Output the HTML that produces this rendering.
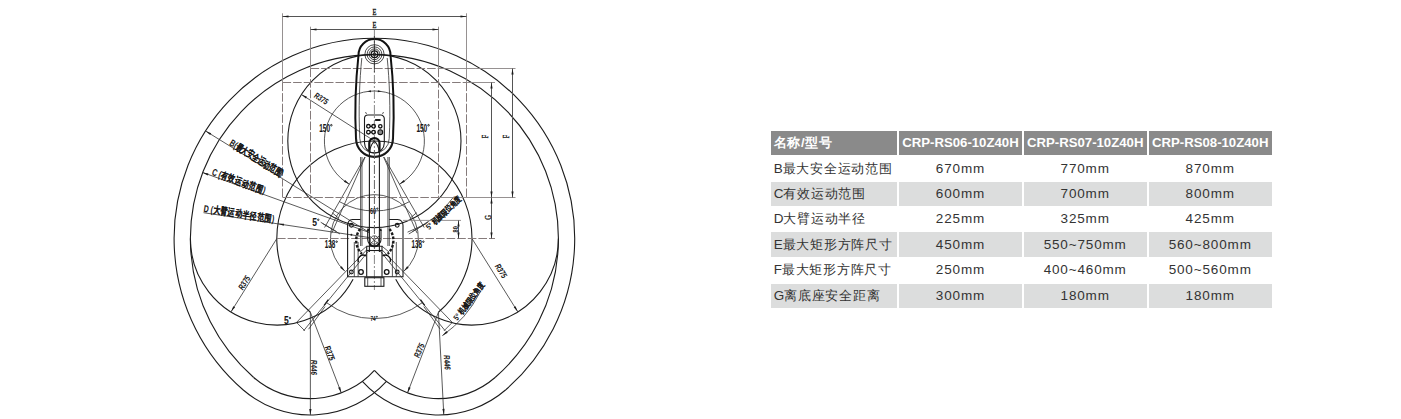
<!DOCTYPE html>
<html><head><meta charset="utf-8"><style>
html,body{margin:0;padding:0;background:#fff;}
body{width:1401px;height:419px;position:relative;overflow:hidden;font-family:"Liberation Sans",sans-serif;}
svg{position:absolute;left:0;top:0;}
.s{fill:none;stroke:#1c1c1c;stroke-width:1.1;}
.m{}
.t1{stroke-width:0.8;stroke:#303030;}
.w{fill:#fff;}
.k{fill:none;stroke:#111;stroke-width:2.0;}
.kd{fill:none;stroke:#1a1a1a;stroke-width:2.4;stroke-dasharray:2.6 1.6;}
.k2{fill:none;stroke:#111;stroke-width:1.3;}
.f{fill:#1c1c1c;stroke:none;}
.g{stroke:#8a8484;stroke-width:0.9;}
.d{stroke:#555;stroke-width:1.0;}
.ds{stroke:#857b7b;stroke-width:1.0;stroke-dasharray:8.6 2;}
.dc{stroke:#6a6a6a;stroke-width:0.8;stroke-dasharray:9 2 2 2;}
.t{font-family:"Liberation Serif",serif;fill:#161616;}
.tb{font-family:"Liberation Sans",sans-serif;font-weight:bold;fill:#161616;stroke:#161616;stroke-width:0.05;}
.tsb{font-family:"Liberation Serif",serif;fill:#161616;stroke:#161616;stroke-width:0.35;}
.c{position:absolute;box-sizing:border-box;white-space:nowrap;text-align:center;}
.c span{position:absolute;left:0;right:0;}
.c.l span{left:3px;right:auto;text-align:left;}
.h{background:#8a8a8a;color:#fff;font-weight:bold;font-size:13.2px;}
.h span{top:4px;line-height:16px;}
.r{color:#333;font-size:13.5px;}
.r span{top:5.5px;line-height:16px;}
.gy{background:#dcdddd;}
.gy span{top:4.5px;}
.c i{font-style:normal;}
.r i{font-size:13px;}
.r span{letter-spacing:0.85px;}
.r i{letter-spacing:0.75px;}
.h i{letter-spacing:0.6px;}
.r.l span{letter-spacing:0;}
</style></head><body>
<svg width="1401" height="419" viewBox="0 0 1401 419">
<path class="s" d="M242.99,389.77A200.3,200.3 0 1 1 505.81,389.77"/>
<path class="s" d="M253.69,377.47A184.0,184.0 0 1 1 495.11,377.47"/>
<path class="s m" d="M310.37,312.26A97.6,97.6 0 1 1 438.43,312.26"/>
<path class="s" d="M242.99,389.77A102.7,102.7 0 0 0 386.43,381.26"/>
<path class="s" d="M505.81,389.77A102.7,102.7 0 0 1 362.37,381.26"/>
<path class="s" d="M253.69,377.47A86.4,86.4 0 0 0 374.4,370.27"/>
<path class="s" d="M495.11,377.47A86.4,86.4 0 0 1 374.4,370.27"/>
<circle class="s m" cx="374.4" cy="141.0" r="86.6"/>
<path class="s m" d="M190.4,238.6A86.4,86.4 0 0 0 353.09,279.16"/>
<path class="s m" d="M558.4,238.6A86.4,86.4 0 0 1 395.71,279.16"/>
<path class="s t1" d="M349.4,184.3A50,50 0 1 1 399.4,184.3"/>
<path class="f" d="M367.44,91.49L370.84,90.19L371.02,92.18Z"/>
<path class="f" d="M381.36,91.49L377.78,92.18L377.96,90.19Z"/>
<path class="s t1" d="M344.96,271.3A44,44 0 1 1 403.84,271.3"/>
<path class="s t1" d="M409.4,201.62A70,70 0 0 1 339.4,201.62"/>
<path class="s t1" d="M422.55,302.49A80,80 0 0 1 326.25,302.49"/>
<line class="k2" x1="420.44" y1="299.7" x2="424.65" y2="305.29"/>
<line class="k2" x1="328.36" y1="299.7" x2="324.15" y2="305.29"/>
<path class="s t1" d="M453.86,196.64A97,97 0 0 1 407.58,232.15"/>
<path class="s t1" d="M479.98,292.4A118.5,118.5 0 0 1 442.37,335.67"/>
<path class="f" d="M442.37,335.67L446.38,331.07L447.75,332.8Z"/>
<path class="f" d="M349.4,184.3L343.85,181.76L345.12,179.96Z"/>
<path class="f" d="M399.4,184.3L403.68,179.96L404.95,181.76Z"/>
<path class="f" d="M344.96,271.3L340.06,267.66L341.67,266.16Z"/>
<path class="f" d="M403.84,271.3L407.13,266.16L408.74,267.66Z"/>
<line class="s t1" x1="383.9" y1="157" x2="424.2" y2="227.5"/>
<line class="s t1" x1="383.6" y1="157" x2="417.1" y2="233.2"/>
<line class="s t1" x1="426.3" y1="223.5" x2="412.3" y2="231.5"/>
<line class="s t1" x1="416.6" y1="212.7" x2="409.9" y2="218.4"/>
<line class="s t1" x1="428.1" y1="222.2" x2="408.8" y2="234"/>
<line class="s t1" x1="364.9" y1="157" x2="324.6" y2="227.5"/>
<line class="s t1" x1="365.2" y1="157" x2="331.7" y2="233.2"/>
<line class="s t1" x1="322.5" y1="223.5" x2="336.5" y2="231.5"/>
<line class="s t1" x1="332.2" y1="212.7" x2="338.9" y2="218.4"/>
<line class="s t1" x1="320.7" y1="222.2" x2="340.0" y2="234"/>
<line class="s t1" x1="382.2" y1="250" x2="452.3" y2="322.4"/>
<line class="s t1" x1="379.4" y1="250" x2="445.2" y2="330.8"/>
<line class="s t1" x1="452.3" y1="322.4" x2="444.0" y2="330.8"/>
<line class="s t1" x1="325.03" y1="306.56" x2="308.57" y2="329.21"/>
<line class="s t1" x1="366.6" y1="250" x2="296.5" y2="322.4"/>
<line class="s t1" x1="369.4" y1="250" x2="303.6" y2="330.8"/>
<line class="s t1" x1="296.5" y1="322.4" x2="304.8" y2="330.8"/>
<line class="s t1" x1="423.77" y1="306.56" x2="440.23" y2="329.21"/>
<line class="s t1" x1="205.6" y1="131.0" x2="369" y2="232.3"/>
<path class="f" d="M205.6,131.0L211.28,133.23L210.12,135.1Z"/>
<line class="s t1" x1="202.4" y1="172.4" x2="369" y2="232.4"/>
<path class="f" d="M202.4,172.4L208.42,173.4L207.67,175.47Z"/>
<line class="s t1" x1="203.5" y1="212.7" x2="369" y2="237.5"/>
<path class="f" d="M277.92,223.84L284.02,223.66L283.69,225.83Z"/>
<line class="s t1" x1="374.4" y1="141.0" x2="301.36" y2="94.47"/>
<path class="f" d="M301.36,94.47L307.01,96.77L305.83,98.62Z"/>
<line class="s t1" x1="276.8" y1="238.6" x2="231.01" y2="311.87"/>
<path class="f" d="M231.01,311.87L233.26,306.2L235.13,307.37Z"/>
<line class="s t1" x1="472.0" y1="238.6" x2="517.79" y2="311.87"/>
<path class="f" d="M517.79,311.87L513.67,307.37L515.54,306.2Z"/>
<line class="s t1" x1="310.37" y1="312.26" x2="310.37" y2="414.96"/>
<path class="f" d="M310.37,414.96L309.27,408.96L311.47,408.96Z"/>
<line class="s t1" x1="438.43" y1="312.26" x2="443.81" y2="414.82"/>
<path class="f" d="M443.81,414.82L442.39,408.88L444.59,408.77Z"/>
<line class="s t1" x1="310.37" y1="312.26" x2="341.33" y2="392.92"/>
<path class="f" d="M341.33,392.92L338.15,387.71L340.21,386.93Z"/>
<line class="s t1" x1="438.43" y1="312.26" x2="407.47" y2="392.92"/>
<path class="f" d="M407.47,392.92L408.59,386.93L410.65,387.71Z"/>
<line class="g" x1="282.5" y1="13.3" x2="282.5" y2="82.5"/>
<line class="g" x1="466.5" y1="13.3" x2="466.5" y2="82.5"/>
<line class="g" x1="310.5" y1="26.7" x2="310.5" y2="68.5"/>
<line class="g" x1="438.5" y1="26.7" x2="438.5" y2="68.5"/>
<line class="d" x1="282.5" y1="16.5" x2="466.5" y2="16.5"/>
<path class="f" d="M282.5,16.5L288.5,15.4L288.5,17.6Z"/>
<path class="f" d="M466.5,16.5L460.5,17.6L460.5,15.4Z"/>
<line class="d" x1="310.5" y1="29.5" x2="438.5" y2="29.5"/>
<path class="f" d="M310.5,29.5L316.5,28.4L316.5,30.6Z"/>
<path class="f" d="M438.5,29.5L432.5,30.6L432.5,28.4Z"/>
<line class="ds" x1="282.5" y1="82.5" x2="282.5" y2="197.5"/>
<line class="ds" x1="466.5" y1="82.5" x2="466.5" y2="197.5"/>
<line class="ds" x1="310.5" y1="68.5" x2="310.5" y2="197.5"/>
<line class="ds" x1="438.5" y1="68.5" x2="438.5" y2="197.5"/>
<line class="ds" x1="310.5" y1="68.5" x2="438.5" y2="68.5"/>
<line class="ds" x1="282.5" y1="82.5" x2="466.5" y2="82.5"/>
<line class="ds" x1="282.5" y1="197.5" x2="438.5" y2="197.5"/>
<line class="ds" x1="277" y1="238.5" x2="495" y2="238.5"/>
<line class="g" x1="438.5" y1="68.5" x2="515.5" y2="68.5"/>
<line class="g" x1="466.5" y1="82.5" x2="495" y2="82.5"/>
<line class="g" x1="438.5" y1="197.5" x2="515.5" y2="197.5"/>
<line class="d" x1="512.5" y1="68.5" x2="512.5" y2="197.5"/>
<path class="f" d="M512.5,68.5L513.6,74.5L511.4,74.5Z"/>
<path class="f" d="M512.5,197.5L511.4,191.5L513.6,191.5Z"/>
<line class="d" x1="491.5" y1="82.5" x2="491.5" y2="197.5"/>
<path class="f" d="M491.5,82.5L492.6,88.5L490.4,88.5Z"/>
<path class="f" d="M491.5,197.5L490.4,191.5L492.6,191.5Z"/>
<line class="d" x1="491.5" y1="197.5" x2="491.5" y2="238.5"/>
<path class="f" d="M491.5,197.5L492.6,203.5L490.4,203.5Z"/>
<path class="f" d="M491.5,238.5L490.4,232.5L492.6,232.5Z"/>
<line class="g" x1="403" y1="220.4" x2="461" y2="220.4"/>
<line class="d" x1="458.5" y1="220.4" x2="458.5" y2="238.6"/>
<path class="f" d="M458.5,220.4L459.6,226.4L457.4,226.4Z"/>
<path class="f" d="M458.5,238.6L457.4,232.6L459.6,232.6Z"/>
<line class="dc" x1="374.4" y1="30" x2="374.4" y2="290"/>
<path class="k" d="M358.5,55 A16,16 0 0 1 390.5,55 C393,78 394.6,108 393,138.5 A18.5,18.5 0 0 1 356,138.5 C354.4,108 356,78 358.5,55 Z"/>
<path class="s t1" d="M361.8,58 C359.6,80 358.3,108 359.8,138.5 A14.7,14.7 0 0 0 389.2,138.5 C390.7,108 389.4,80 387.2,58"/>
<path class="s t1" d="M356.3,130 L356.6,138.5 A17.9,17.9 0 0 0 392.4,138.5 L392.7,130" style="stroke-width:0.6"/>
<line class="s t1" x1="374.4" y1="36" x2="374.4" y2="72"/>
<circle fill="none" stroke="#111" stroke-width="0.75" cx="374.5" cy="54.3" r="9.6"/>
<circle fill="none" stroke="#111" stroke-width="0.75" cx="374.5" cy="54.3" r="7.4"/>
<circle fill="none" stroke="#111" stroke-width="0.8" cx="374.5" cy="54.3" r="5.4"/>
<circle fill="none" stroke="#111" stroke-width="1.3" cx="374.5" cy="54.3" r="3.4"/>
<circle fill="none" stroke="#111" stroke-width="0.9" cx="374.5" cy="54.3" r="1.4"/>
<path class="s" d="M364.5,143 L364.5,118.5 A3.5,3.5 0 0 1 368,115 L380.8,115 A3.5,3.5 0 0 1 384.3,118.5 L384.3,143 A9.9,9.9 0 0 1 364.5,143"/>
<path class="s t1" d="M366.5,114 l-1,-2 M382.5,114 l1,-2"/>
<rect class="f" x="374.8" y="118.9" width="6" height="2.1" rx="1.05"/>
<circle class="k2" cx="368.4" cy="126.3" r="1.8"/><circle class="k2" cx="373.6" cy="126.3" r="1.8"/><line class="k2" x1="370" y1="126.3" x2="372" y2="126.3"/>
<circle class="k2" cx="368.4" cy="132.2" r="1.8"/><circle class="k2" cx="373.6" cy="132.2" r="1.8"/><line class="k2" x1="370" y1="132.2" x2="372" y2="132.2"/>
<circle class="k2" cx="380.3" cy="126.3" r="1.7"/>
<circle fill="#8a8a8a" stroke="#111" stroke-width="1.1" cx="380.3" cy="132.2" r="2.4"/>
<path class="k" d="M369.3,151.5 L369.3,143.2 A5.1,5.1 0 0 1 379.5,143.2 L379.5,151.5" style="stroke-width:2.2"/>
<line class="s t1" x1="360.6" y1="157" x2="360.6" y2="246"/>
<line class="s t1" x1="362.0" y1="157" x2="362.0" y2="246"/>
<line class="s t1" x1="387.9" y1="157" x2="387.9" y2="246"/>
<line class="s t1" x1="389.3" y1="157" x2="389.3" y2="246"/>
<path class="s" d="M369.4,252 L369.4,152 Q370.5,145 374.4,141.2 Q378.3,145 379.4,152 L379.4,252"/>
<line class="dc" x1="374.5" y1="150" x2="374.5" y2="250"/>
<path class="s" d="M360.4,219.5 L352.5,219.5 Q347.6,220 347.6,225.5 L347.6,276.8 L403,276.8 L403,225.5 Q403,220 397.5,219.5 L389.3,219.5"/>
<line class="s t1" x1="354.3" y1="242" x2="354.3" y2="276.8"/><line class="s t1" x1="358.1" y1="242" x2="358.1" y2="276.8"/>
<line class="s t1" x1="392.4" y1="242" x2="392.4" y2="276.8"/><line class="s t1" x1="396.3" y1="242" x2="396.3" y2="276.8"/>
<circle class="s" cx="351.4" cy="225.3" r="1.9"/>
<circle class="s" cx="397.2" cy="225.3" r="1.9"/>
<circle class="s" cx="351.4" cy="272" r="1.9"/>
<circle class="s" cx="397.2" cy="272" r="1.9"/>
<circle class="f" cx="351.4" cy="234.8" r="1"/>
<circle class="k2" cx="361" cy="272" r="2.3"/>
<circle class="k2" cx="386.7" cy="272" r="2.3"/>
<path class="kd" d="M360.14,229.05 A18.6,18.6 0 0 0 361.88,253.88"/>
<path class="kd" d="M389.46,229.05 A18.6,18.6 0 0 1 387.72,253.88"/>
<path class="s t1" d="M366.7,246.2 L360,252 M382,246.2 L389,252"/>
<path class="s" d="M367.7,230 L367.7,239.5 A6.65,6.65 0 0 0 381,239.5 L381,230"/>
<path class="k" d="M369.5,242.5 A5,5 0 0 0 379.3,242.5" style="stroke-width:1.6"/>
<circle class="s t1" cx="374.4" cy="240" r="4.2"/>
<path class="s t1" d="M369.5,236 L378,243.5 M370,244 L379,236"/>
<rect class="f" x="367.2" y="228.6" width="2" height="2.4"/><rect class="f" x="379.6" y="228.6" width="2" height="2.4"/>
<path class="s" d="M366.7,246.2 L382,246.2 L382,276.8 M366.7,246.2 L366.7,276.8"/>
<line class="s" x1="366.7" y1="250.5" x2="382" y2="250.5"/>
<rect class="s" x="364.8" y="277.7" width="19.1" height="8.6"/>
<line class="s t1" x1="367.7" y1="277.7" x2="367.7" y2="286.3"/><line class="s t1" x1="381" y1="277.7" x2="381" y2="286.3"/>
<path class="k2" d="M358.5,262 A5,5 0 0 1 366,256"/><path class="k2" d="M390,262 A5,5 0 0 0 382.5,256"/>
<g transform="translate(374.5,12.2) rotate(0)"><text class="tsb" transform="scale(0.75,1) skewX(0)" x="0" y="2.89" text-anchor="middle" font-size="8.5">E</text></g>
<g transform="translate(374.5,25.3) rotate(0)"><text class="tsb" transform="scale(0.75,1) skewX(0)" x="0" y="2.89" text-anchor="middle" font-size="8.5">E</text></g>
<g transform="translate(321.2,98.6) rotate(32.5)"><text class="tb" transform="scale(0.72,1) skewX(-8)" x="0" y="2.92" text-anchor="middle" font-size="8.6">R375</text></g>
<g transform="translate(324.6,128.0) rotate(0)"><text class="tb" transform="scale(0.62,1) skewX(0)" x="0" y="3.78" text-anchor="middle" font-size="10.5">150</text></g>
<circle cx="331.33" cy="125.22" r="0.79" fill="none" stroke="#161616" stroke-width="0.9"/>
<g transform="translate(421.8,128.0) rotate(0)"><text class="tb" transform="scale(0.62,1) skewX(0)" x="0" y="3.78" text-anchor="middle" font-size="10.5">150</text></g>
<circle cx="428.53" cy="125.22" r="0.79" fill="none" stroke="#161616" stroke-width="0.9"/>
<g transform="translate(485.2,136.5) rotate(-90)"><text class="tsb" transform="scale(0.75,1) skewX(0)" x="0" y="2.72" text-anchor="middle" font-size="8">F</text></g>
<g transform="translate(506.5,136.5) rotate(-90)"><text class="tsb" transform="scale(0.75,1) skewX(0)" x="0" y="2.72" text-anchor="middle" font-size="8">F</text></g>
<g transform="translate(487.8,217.5) rotate(-90)"><text class="tsb" transform="scale(0.75,1) skewX(0)" x="0" y="2.89" text-anchor="middle" font-size="8.5">G</text></g>
<g transform="translate(455.2,229.3) rotate(-90)"><text class="tb" transform="scale(0.75,1) skewX(0)" x="0" y="2.55" text-anchor="middle" font-size="7.5">80</text></g>
<g transform="translate(373.0,210.8) rotate(0)"><text class="tb" transform="scale(0.62,1) skewX(0)" x="0" y="3.17" text-anchor="middle" font-size="8.8">60</text></g>
<circle cx="377.33" cy="208.63" r="0.66" fill="none" stroke="#161616" stroke-width="0.9"/>
<g transform="translate(330.1,244.3) rotate(0)"><text class="tb" transform="scale(0.63,1) skewX(0)" x="0" y="3.6" text-anchor="middle" font-size="10">138</text></g>
<circle cx="336.65" cy="241.7" r="0.75" fill="none" stroke="#161616" stroke-width="0.9"/>
<g transform="translate(416.8,244.3) rotate(0)"><text class="tb" transform="scale(0.63,1) skewX(0)" x="0" y="3.6" text-anchor="middle" font-size="10">138</text></g>
<circle cx="423.35" cy="241.7" r="0.75" fill="none" stroke="#161616" stroke-width="0.9"/>
<g transform="translate(373.0,318.2) rotate(0)"><text class="tb" transform="scale(0.68,1) skewX(0)" x="0" y="2.45" text-anchor="middle" font-size="6.8">74</text></g>
<circle cx="376.87" cy="316.75" r="0.51" fill="none" stroke="#161616" stroke-width="0.9"/>
<g transform="translate(314.6,222.4) rotate(0)"><text class="tb" transform="scale(0.85,1) skewX(0)" x="0" y="3.6" text-anchor="middle" font-size="10">5</text></g>
<circle cx="318.26" cy="219.8" r="0.75" fill="none" stroke="#161616" stroke-width="0.9"/>
<g transform="translate(286.3,320.6) rotate(0)"><text class="tb" transform="scale(0.85,1) skewX(0)" x="0" y="3.6" text-anchor="middle" font-size="10">5</text></g>
<circle cx="289.96" cy="318.0" r="0.75" fill="none" stroke="#161616" stroke-width="0.9"/>
<text class="tb" transform="translate(228.77,144.84) rotate(31.8) scale(0.7,1) skewX(0)" text-anchor="start" font-size="9.8">B(最大安全运动范围)</text>
<text class="tb" transform="translate(211.22,174.76) rotate(19.81) scale(0.72,1) skewX(0)" text-anchor="start" font-size="9.8">C (有效运动范围)</text>
<text class="tb" transform="translate(203.35,211.71) rotate(8.52) scale(0.72,1) skewX(0)" text-anchor="start" font-size="9.8">D (大臂运动半径范围)</text>
<g transform="translate(244.3,282.7) rotate(-58)"><text class="tb" transform="scale(0.72,1) skewX(-8)" x="0" y="2.92" text-anchor="middle" font-size="8.6">R375</text></g>
<g transform="translate(501.0,271.0) rotate(58)"><text class="tb" transform="scale(0.72,1) skewX(-8)" x="0" y="2.92" text-anchor="middle" font-size="8.6">R375</text></g>
<g transform="translate(314.2,367.5) rotate(90)"><text class="tb" transform="scale(0.72,1) skewX(-8)" x="0" y="2.92" text-anchor="middle" font-size="8.6">R446</text></g>
<g transform="translate(447.2,362.5) rotate(87)"><text class="tb" transform="scale(0.72,1) skewX(-8)" x="0" y="2.92" text-anchor="middle" font-size="8.6">R446</text></g>
<g transform="translate(329.7,353.2) rotate(69)"><text class="tb" transform="scale(0.72,1) skewX(-8)" x="0" y="2.92" text-anchor="middle" font-size="8.6">R375</text></g>
<g transform="translate(419.3,350.4) rotate(-67.5)"><text class="tb" transform="scale(0.72,1) skewX(-8)" x="0" y="2.92" text-anchor="middle" font-size="8.6">R375</text></g>
<g transform="translate(443.5,213.0) rotate(-43)"><text class="tb" transform="scale(0.8,1) skewX(0)" x="0" y="2.72" text-anchor="middle" font-size="8">5° 机械限位角度</text></g>
<g transform="translate(468.7,301.5) rotate(-53)"><text class="tb" transform="scale(0.8,1) skewX(0)" x="0" y="2.72" text-anchor="middle" font-size="8">5° 机械限位角度</text></g>
</svg>
<div class="c h l" style="left:770.7px;top:130.7px;width:126.1px;height:24.4px;"><span><i>名称/型号</i></span></div>
<div class="c h" style="left:899px;top:130.7px;width:122.9px;height:24.4px;"><span>CRP-RS06-10Z40H</span></div>
<div class="c h" style="left:1023.6px;top:130.7px;width:123.2px;height:24.4px;"><span>CRP-RS07-10Z40H</span></div>
<div class="c h" style="left:1148.5px;top:130.7px;width:123.4px;height:24.4px;"><span>CRP-RS08-10Z40H</span></div>
<div class="c r l" style="left:770.7px;top:155.1px;width:126.1px;height:26.5px;"><span>B<i>最大安全运动范围</i></span></div>
<div class="c r" style="left:899px;top:155.1px;width:122.9px;height:26.5px;"><span>670mm</span></div>
<div class="c r" style="left:1023.6px;top:155.1px;width:123.2px;height:26.5px;"><span>770mm</span></div>
<div class="c r" style="left:1148.5px;top:155.1px;width:123.4px;height:26.5px;"><span>870mm</span></div>
<div class="c r l gy" style="left:770.7px;top:181.6px;width:126.1px;height:24.1px;"><span>C<i>有效运动范围</i></span></div>
<div class="c r gy" style="left:899px;top:181.6px;width:122.9px;height:24.1px;"><span>600mm</span></div>
<div class="c r gy" style="left:1023.6px;top:181.6px;width:123.2px;height:24.1px;"><span>700mm</span></div>
<div class="c r gy" style="left:1148.5px;top:181.6px;width:123.4px;height:24.1px;"><span>800mm</span></div>
<div class="c r l" style="left:770.7px;top:205.7px;width:126.1px;height:26.7px;"><span>D<i>大臂运动半径</i></span></div>
<div class="c r" style="left:899px;top:205.7px;width:122.9px;height:26.7px;"><span>225mm</span></div>
<div class="c r" style="left:1023.6px;top:205.7px;width:123.2px;height:26.7px;"><span>325mm</span></div>
<div class="c r" style="left:1148.5px;top:205.7px;width:123.4px;height:26.7px;"><span>425mm</span></div>
<div class="c r l gy" style="left:770.7px;top:232.4px;width:126.1px;height:24.3px;"><span>E<i>最大矩形方阵尺寸</i></span></div>
<div class="c r gy" style="left:899px;top:232.4px;width:122.9px;height:24.3px;"><span>450mm</span></div>
<div class="c r gy" style="left:1023.6px;top:232.4px;width:123.2px;height:24.3px;"><span>550~750mm</span></div>
<div class="c r gy" style="left:1148.5px;top:232.4px;width:123.4px;height:24.3px;"><span>560~800mm</span></div>
<div class="c r l" style="left:770.7px;top:256.7px;width:126.1px;height:26.9px;"><span>F<i>最大矩形方阵尺寸</i></span></div>
<div class="c r" style="left:899px;top:256.7px;width:122.9px;height:26.9px;"><span>250mm</span></div>
<div class="c r" style="left:1023.6px;top:256.7px;width:123.2px;height:26.9px;"><span>400~460mm</span></div>
<div class="c r" style="left:1148.5px;top:256.7px;width:123.4px;height:26.9px;"><span>500~560mm</span></div>
<div class="c r l gy" style="left:770.7px;top:283.6px;width:126.1px;height:24.6px;"><span>G<i>离底座安全距离</i></span></div>
<div class="c r gy" style="left:899px;top:283.6px;width:122.9px;height:24.6px;"><span>300mm</span></div>
<div class="c r gy" style="left:1023.6px;top:283.6px;width:123.2px;height:24.6px;"><span>180mm</span></div>
<div class="c r gy" style="left:1148.5px;top:283.6px;width:123.4px;height:24.6px;"><span>180mm</span></div>
</body></html>
